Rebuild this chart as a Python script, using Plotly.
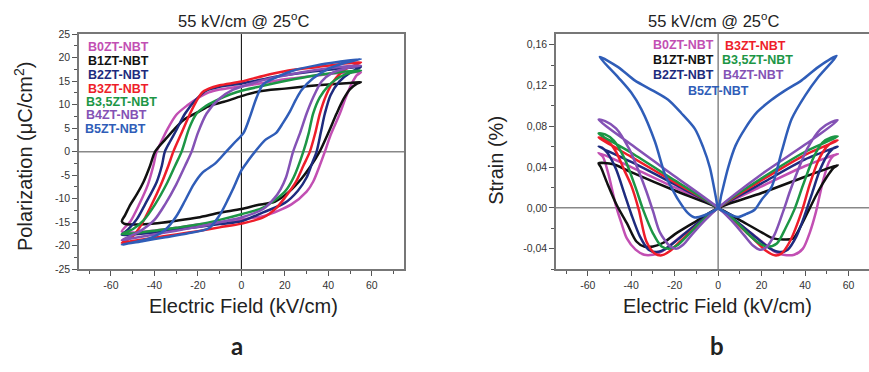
import plotly.graph_objects as go

W, H = 869, 372

# ---------------- P-E loops (E in kV/cm, P in uC/cm2) ----------------
names = ["B0ZT-NBT", "B1ZT-NBT", "B2ZT-NBT", "B3ZT-NBT", "B3,5ZT-NBT", "B4ZT-NBT", "B5ZT-NBT"]
colors = ["#C24FB3", "#111111", "#1E2B7E", "#EE1D2A", "#1C9645", "#8452B5", "#2F5DB8"]

pe_B0_E = [55, 45, 35, 20, 10, 0, -10, -15, -20, -25, -30, -34, -37, -39, -40.5, -43, -47, -51, -55,
           -50, -40, -30, -20, -10, 0, 10.9, 23, 30, 33, 36, 38.4, 41, 45.3, 48, 50.7, 53, 55]
pe_B0_P = [16.9, 16.7, 16.2, 15.4, 14.6, 13.9, 13.2, 12.6, 11.4, 9.8, 7.8, 4.8, 2, 0, -3, -7, -11.2, -14.8, -17,
           -17.2, -16.8, -16.2, -15.5, -15, -14.4, -13.6, -11.2, -8.5, -6.4, -3, 0, 3.5, 8.1, 11.5, 14.4, 16.2, 16.9]

pe_B1_E = [55, 50, 40, 30, 20, 8, 0, -8, -14.4, -20, -26.7, -31, -35, -39.7, -42, -45, -48, -51, -53.5, -55,
           -54, -50, -40, -30, -20, -10, 0, 7, 15.5, 22, 27.7, 32, 36, 40, 43.8, 47, 50, 53, 55]
pe_B1_P = [14.8, 14.6, 14.3, 13.9, 13.4, 12.8, 11.8, 10.6, 9.8, 8.4, 6.7, 4.7, 2.6, 0, -3, -6.4, -9, -11.2, -13.5, -14.8,
           -15.3, -15.5, -15.3, -14.7, -14, -13, -12.2, -11.4, -10.6, -8.5, -5.7, -3, 0, 4, 8.1, 11.2, 13.3, 14.4, 14.8]

pe_B2_E = [55, 45, 30, 15, 5, 0, -10, -16, -21, -25.9, -30, -33, -35.2, -36.6, -39, -44.3, -48, -52, -55,
           -50, -40, -30, -20, -10, 0, 10, 20, 26, 30, 32.5, 34.6, 36.5, 38.4, 41, 45, 50, 55]
pe_B2_P = [18, 17.6, 16.9, 15.9, 14.9, 14.5, 13.8, 13, 11, 8.1, 4.5, 2, 0, -3, -6.5, -11.2, -14.3, -16.5, -17.7,
           -17.6, -17.2, -16.6, -16, -15.4, -14.8, -12.9, -10.9, -8.3, -5.5, -2.5, 0, 4, 8.1, 12, 14.9, 16.8, 18]

pe_B3_E = [55, 45, 35, 20, 10, 0, -10, -15, -18, -21, -23.6, -27.5, -31.3, -33.6, -37, -41.2, -46, -50, -55,
           -50, -40, -30, -20, -10, 0, 10, 16, 20, 25, 28.5, 31.5, 34, 36.1, 39, 42.3, 48, 55]
pe_B3_P = [19, 18.6, 18, 17.1, 16.1, 14.9, 14.1, 13.4, 12.6, 10.5, 8.1, 4, 0, -3, -7, -11.2, -15.5, -18, -19.4,
           -19, -18.3, -17.6, -16.9, -16.1, -15.3, -14, -12, -9.8, -6.5, -3, 0, 4, 8.1, 12, 14.9, 17.6, 19]

pe_B35_E = [55, 45, 35, 20, 10, 2.4, -5, -12, -17, -20.6, -24, -27.5, -30.5, -34, -39.7, -45, -50, -55,
            -50, -40, -30, -20, -10, 0, 10, 20, 24, 28.5, 31, 33, 36, 40, 43, 48, 55]
pe_B35_P = [17.3, 16.9, 16.3, 15, 14, 13.2, 12.2, 10.8, 9.5, 8.1, 5, 0, -3, -6.5, -11.2, -14.6, -16.5, -17.5,
            -17.4, -16.8, -16.2, -15.5, -14.5, -13.3, -11.9, -8.5, -5.5, 0, 4, 8.1, 11.5, 14, 15.2, 16.5, 17.3]

pe_B4_E = [55, 45, 35, 20, 10, 0, -3.8, -10, -16, -20, -22.9, -25.9, -30, -35.1, -40, -47, -55,
           -50, -40, -30, -20, -10, 0, 10, 15, 18, 20.5, 23.8, 27, 30, 33, 36.9, 42, 48, 55]
pe_B4_P = [18.3, 18, 17.4, 16.2, 15.2, 13.8, 13.2, 11.3, 8.1, 4, 0, -3, -7, -11.2, -14.5, -17, -18.8,
           -18.4, -17.6, -16.8, -16, -15, -14, -12.2, -10, -8, -5.5, 0, 4, 8.1, 11.5, 14.9, 16.8, 17.7, 18.3]

pe_B5_E = [55, 45, 35, 25, 16, 10, 7, 4, 1, -3, -7, -12, -18, -22, -26, -30, -35, -42, -55,
           -45, -35, -25, -15, -10, -6, -3.7, 0, 3, 6.3, 11, 16, 19, 22.3, 25, 27.7, 33, 40, 47, 55]
pe_B5_P = [19.7, 19.1, 18.4, 17.4, 15.8, 14.3, 11.5, 7.5, 4, 2, 0, -2.5, -4.5, -7, -10.5, -13.8, -16.6, -18.4, -19.8,
           -19, -18.2, -17.4, -16.3, -13.5, -10, -7.8, -4, -2, 0, 2.5, 4, 6, 8.5, 11, 13.1, 15.6, 17.6, 18.8, 19.7]

# ---------------- Strain butterflies (E in kV/cm, S in %) ----------------
s_B0_E = [55, 40, 20, 0, -10, -20, -26, -30, -34, -38, -42, -44.5, -47, -50.6, -53, -55,
          -40, -20, 0, 10, 20, 26, 30, 35, 39, 42.2, 45, 48.3, 51, 53, 55]
s_B0_S = [0.053, 0.041, 0.021, 0, -0.016, -0.033, -0.043, -0.046, -0.046, -0.041, -0.030, -0.015, 0.002, 0.034, 0.050, 0.054,
          0.040, 0.020, 0, -0.016, -0.033, -0.043, -0.046, -0.046, -0.040, -0.024, -0.004, 0.027, 0.045, 0.051, 0.053]

s_B1_E = [55, 40, 20, 0, -10, -20, -25, -30, -34, -37.6, -42, -46.5, -51, -54, -55,
          -48.3, -40, -20, 0, 10, 20, 25.3, 30, 34.5, 38, 42.2, 46, 49.9, 53, 55]
s_B1_S = [0.042, 0.0305, 0.0145, 0, -0.013, -0.026, -0.034, -0.038, -0.038, -0.033, -0.015, 0.002, 0.024, 0.040, 0.0437,
          0.0428, 0.035, 0.017, 0, -0.012, -0.024, -0.030, -0.031, -0.030, -0.018, 0.0, 0.016, 0.030, 0.039, 0.042]

s_B2_E = [55, 40, 20, 0, -10, -18, -24, -28.4, -32, -36, -40, -43, -47, -51, -53.5, -55,
          -40, -20, 0, 10, 18, 24, 28.4, 32, 36, 40, 43, 47, 51, 53.5, 55]
s_B2_S = [0.060, 0.0475, 0.024, 0, -0.016, -0.030, -0.040, -0.0434, -0.041, -0.028, -0.006, 0.013, 0.038, 0.054, 0.059, 0.060,
          0.045, 0.023, 0, -0.016, -0.030, -0.040, -0.0434, -0.041, -0.028, -0.006, 0.013, 0.038, 0.054, 0.059, 0.060]

s_B3_E = [55, 40, 20, 0, -10, -17, -22, -26, -29, -33, -36.5, -40, -43, -47, -51, -55,
          -40, -20, 0, 10, 17, 22, 26.1, 29, 33, 38.7, 42, 46, 50, 53, 55]
s_B3_S = [0.066, 0.052, 0.027, 0, -0.018, -0.032, -0.042, -0.0466, -0.045, -0.033, -0.002, 0.022, 0.036, 0.055, 0.066, 0.069,
          0.050, 0.025, 0, -0.018, -0.032, -0.042, -0.0466, -0.045, -0.033, -0.002, 0.022, 0.046, 0.060, 0.065, 0.066]

s_B35_E = [55, 40, 20, 0, -8, -14, -19, -22.2, -26, -30, -34.5, -38, -43, -48, -52, -55,
           -40, -20, 0, 8, 14, 19, 23, 27, 31, 35, 39, 44, 48, 52, 55]
s_B35_S = [0.070, 0.055, 0.029, 0, -0.014, -0.027, -0.037, -0.040, -0.038, -0.025, -0.002, 0.020, 0.048, 0.066, 0.072, 0.073,
           0.054, 0.027, 0, -0.013, -0.026, -0.035, -0.038, -0.035, -0.020, -0.002, 0.022, 0.050, 0.064, 0.069, 0.070]

s_B4_E = [55, 40, 20, 0, -6, -12, -16, -19, -22, -26.8, -30, -33, -36, -41, -47, -52, -55,
          -40, -20, 0, 6, 12, 16, 19.2, 22, 26, 30, 33, 36, 41, 47, 52, 55]
s_B4_S = [0.0858, 0.062, 0.033, 0, -0.012, -0.026, -0.036, -0.040, -0.038, -0.024, -0.003, 0.016, 0.033, 0.058, 0.078, 0.085, 0.0865,
          0.062, 0.031, 0, -0.012, -0.027, -0.037, -0.041, -0.039, -0.026, -0.003, 0.016, 0.033, 0.058, 0.077, 0.084, 0.0858]

s_B5_E = [54.5, 46, 38.4, 30, 24.6, 18, 12.3, 8, 4.6, 1.5, 0, -3, -6, -10.7, -14, -18.4, -21, -24.5, -29.1, -35.3, -40, -46, -54.5,
          -46, -38.4, -30, -23, -17, -10.7, -7, -3.8, -1, 0, 3, 6, 9.2, 13, 16.9, 20, 24.6, 29.2, 33.8, 40, 46, 54.5]
s_B5_S = [0.149, 0.138, 0.125, 0.114, 0.106, 0.094, 0.0775, 0.061, 0.0395, 0.013, 0, -0.004, -0.007, -0.0095, -0.005, 0.008, 0.018, 0.033, 0.065, 0.0965, 0.113, 0.128, 0.148,
          0.138, 0.125, 0.115, 0.106, 0.093, 0.0775, 0.060, 0.0395, 0.010, 0, -0.004, -0.007, -0.009, -0.006, -0.0016, 0.008, 0.0205, 0.055, 0.087, 0.110, 0.128, 0.149]

pe_data = [(pe_B0_E, pe_B0_P), (pe_B1_E, pe_B1_P), (pe_B2_E, pe_B2_P), (pe_B3_E, pe_B3_P),
           (pe_B35_E, pe_B35_P), (pe_B4_E, pe_B4_P), (pe_B5_E, pe_B5_P)]
s_data = [(s_B0_E, s_B0_S), (s_B1_E, s_B1_S), (s_B2_E, s_B2_S), (s_B3_E, s_B3_S),
          (s_B35_E, s_B35_S), (s_B4_E, s_B4_S), (s_B5_E, s_B5_S)]

x_ticks = [-60, -40, -20, 0, 20, 40, 60]
x_minor = [-70, -50, -30, -10, 10, 30, 50, 70]
pe_ticks = [-25, -20, -15, -10, -5, 0, 5, 10, 15, 20, 25]
pe_minor = [-22.5, -17.5, -12.5, -7.5, -2.5, 2.5, 7.5, 12.5, 17.5, 22.5]
s_ticks = [-0.04, 0.0, 0.04, 0.08, 0.12, 0.16]
s_ticktext = ["-0,04", "0,00", "0,04", "0,08", "0,12", "0,16"]
s_minor = [-0.06, -0.02, 0.02, 0.06, 0.10, 0.14]

FONT = "Liberation Sans"

fig = go.Figure()
for (E, P), c in zip(pe_data, colors):
    fig.add_trace(go.Scatter(x=E, y=P, mode="lines", xaxis="x", yaxis="y", showlegend=False,
                             hoverinfo="skip",
                             line=dict(color=c, width=2.5, shape="spline", smoothing=0.8)))
for (E, S), c in zip(s_data, colors):
    fig.add_trace(go.Scatter(x=E, y=S, mode="lines", xaxis="x2", yaxis="y2", showlegend=False,
                             hoverinfo="skip",
                             line=dict(color=c, width=2.5, shape="spline", smoothing=0.8)))

ydom = [1 - 272 / H, 1 - 29 / H]
common = dict(showgrid=False, zeroline=False, showline=True, linecolor="#777", linewidth=1.5,
              ticks="outside", ticklen=5, tickwidth=1, tickcolor="#555",
              tickfont=dict(family=FONT, size=10.5, color="#333"), tickmode="array")

fig.update_layout(
    width=W, height=H, margin=dict(l=0, r=0, t=0, b=0),
    paper_bgcolor="white", plot_bgcolor="white",
    font=dict(family=FONT),
    xaxis=dict(domain=[79 / W, 404 / W], range=[-74.7, 74.8], anchor="y", mirror=True,
               tickvals=x_ticks, ticktext=[str(v) for v in x_ticks],
               minor=dict(tickvals=x_minor, ticks="outside", ticklen=3, tickcolor="#555"), **common),
    yaxis=dict(domain=ydom, range=[-25, 25], anchor="x", mirror=True,
               tickvals=pe_ticks, ticktext=[str(v) for v in pe_ticks],
               minor=dict(tickvals=pe_minor, ticks="outside", ticklen=3, tickcolor="#555"), **common),
    xaxis2=dict(domain=[556 / W, 1.0], range=[-74.6, 69.4], anchor="y2", mirror=True,
                tickvals=x_ticks, ticktext=[str(v) for v in x_ticks],
                minor=dict(tickvals=x_minor, ticks="outside", ticklen=3, tickcolor="#555"), **common),
    yaxis2=dict(domain=ydom, range=[-0.0602, 0.1704], anchor="x2", mirror=False,
                tickvals=s_ticks, ticktext=s_ticktext,
                minor=dict(tickvals=s_minor, ticks="outside", ticklen=3, tickcolor="#555"), **common),
)

shapes = [
    dict(type="line", xref="x", yref="y domain", x0=0, x1=0, y0=0, y1=1,
         line=dict(color="#000", width=1), layer="below"),
    dict(type="line", xref="x domain", yref="y", x0=0, x1=1, y0=0, y1=0,
         line=dict(color="#888", width=1.5), layer="below"),
    dict(type="line", xref="x2", yref="y2 domain", x0=0, x1=0, y0=0, y1=1,
         line=dict(color="#888", width=1.5), layer="below"),
    dict(type="line", xref="x2 domain", yref="y2", x0=0, x1=1, y0=0, y1=0,
         line=dict(color="#888", width=1.5), layer="below"),
]
fig.update_layout(shapes=shapes)


def ann(text, xpx, ypx, size, color="#222", xanchor="center", angle=0, bold=False, family=FONT):
    t = f"<b>{text}</b>" if bold else text
    return dict(text=t, x=xpx / W, y=1 - ypx / H, xref="paper", yref="paper",
                xanchor=xanchor, yanchor="middle", showarrow=False, textangle=angle,
                font=dict(family=family, size=size, color=color))


anns = [
    ann("55 kV/cm @ 25<sup>o</sup>C", 243, 14, 16.5),
    ann("55 kV/cm @ 25<sup>o</sup>C", 713, 14, 16.5),
    ann("Polarization (μC/cm<sup>2</sup>)", 24, 156, 20, angle=-90),
    ann("Strain (%)", 496, 160, 20, angle=-90),
    ann("Electric Field (kV/cm)", 243, 310, 20),
    ann("Electric Field (kV/cm)", 717, 310, 20),
    ann("a", 237, 351, 24, bold=True, family="Lato"),
    ann("b", 717, 351, 24, bold=True, family="Lato"),
]

left_leg = [(86, 42), (86, 57), (86, 71), (86, 86), (84, 99.5), (84, 113), (83, 127)]
for (xp, yp), n, c in zip(left_leg, names, colors):
    anns.append(ann(n, xp, yp, 12.5, color=c, xanchor="left", bold=True))

right_leg = [(651, 40.5), (651, 56), (651, 71), (723, 41.5), (719.5, 56), (721, 71), (686, 88)]
for (xp, yp), n, c in zip(right_leg, names, colors):
    anns.append(ann(n, xp, yp, 12.5, color=c, xanchor="left", bold=True))

fig.update_layout(annotations=anns)
fig.write_html("out.html")
